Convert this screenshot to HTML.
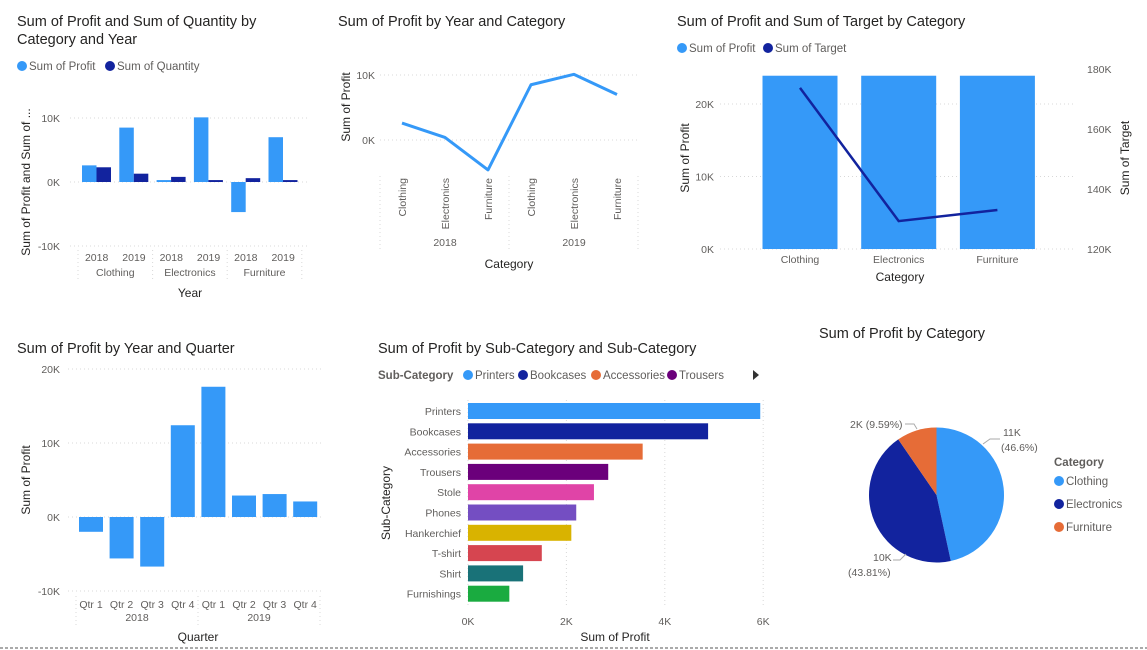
<!DOCTYPE html>
<html><head><meta charset="utf-8"><style>
body{margin:0;background:#fff;}
svg{display:block;font-family:"Liberation Sans","DejaVu Sans",sans-serif;}
.t{font-size:14.5px;fill:#252423;}
.ax{font-size:10.5px;fill:#605E5C;}
.at{font-size:12px;fill:#252423;}
.lg{font-size:11.5px;fill:#605E5C;}
.grid{stroke:#d8d8d8;stroke-dasharray:1,3;stroke-width:1;}
</style></head><body>
<svg id="s" width="1147" height="650">
<line x1="0" y1="648" x2="1147" y2="648" stroke="#555" stroke-dasharray="3,2"/>
</svg>
<script>
// Chart 1 data
const c1Groups=["Clothing","Electronics","Furniture"];
const c1Years=["2018","2019"];
const c1Profit=[2.6,8.5,0.3,10.1,-4.7,7.0];
const c1Qty=[2.3,1.3,0.8,0.3,0.6,0.3];
const c1Ticks=[10,0,-10];
// Chart 2
const c2Cats=["Clothing","Electronics","Furniture","Clothing","Electronics","Furniture"];
const c2Vals=[2.6,0.4,-4.6,8.5,10.1,7.0];
const c2Ticks=[10,0];
// Chart 3
const c3Cats=["Clothing","Electronics","Furniture"];
const c3Profit=[23.9,23.9,23.9];
const c3Target=[173.7,129.3,133.0];
const c3LTicks=[0,10,20];
const c3RTicks=[120,140,160,180];
// Chart 4
const c4Q=["Qtr 1","Qtr 2","Qtr 3","Qtr 4","Qtr 1","Qtr 2","Qtr 3","Qtr 4"];
const c4Vals=[-2.0,-5.6,-6.7,12.4,17.6,2.9,3.1,2.1];
const c4Ticks=[20,10,0,-10];
// Chart 5
const c5Cats=["Printers","Bookcases","Accessories","Trousers","Stole","Phones","Hankerchief","T-shirt","Shirt","Furnishings"];
const c5Vals=[5.94,4.88,3.55,2.85,2.56,2.2,2.1,1.5,1.12,0.84];
const c5Colors=["#3599F8","#12239E","#E66C37","#6B007B","#E044A7","#744EC2","#D9B300","#D64550","#197278","#1AAB40"];
const c5Ticks=[0,2,4,6];
// Chart 6
const c6Cats=["Clothing","Electronics","Furniture"];
const c6Pct=[46.6,43.81,9.59];
const c6Labels=["11K","10K","2K"];

const S=document.getElementById('s');
const NS="http://www.w3.org/2000/svg";
function el(tag,attrs,txt,name,inter){const e=document.createElementNS(NS,tag);for(const k in attrs)e.setAttribute(k,attrs[k]);if(txt!=null)e.textContent=txt;


S.appendChild(e);return e;}
const LB="#3599F8",DB="#12239E";
function fmt(v){return v+"K";}

// ---- Chart 1
el('text',{x:17,y:26,class:'t'},'Sum of Profit and Sum of Quantity by','chart1-title');
el('text',{x:17,y:44,class:'t'},'Category and Year','chart1-title-line2');
el('circle',{cx:22,cy:66,r:5,fill:LB},null,'legend-profit-dot');
el('text',{x:29,y:70,class:'lg'},'Sum of Profit','legend-profit',true);
el('circle',{cx:110,cy:66,r:5,fill:DB},null,'legend-quantity-dot');
el('text',{x:117,y:70,class:'lg'},'Sum of Quantity','legend-quantity',true);
const y1=v=>182-v*6.4;
c1Ticks.forEach(t=>{el('line',{x1:70,x2:310,y1:y1(t),y2:y1(t),class:'grid'},null,'c1-gridline');
el('text',{x:60,y:y1(t)+4,class:'ax','text-anchor':'end'},fmt(t),'c1-y-tick');});
el('text',{x:0,y:0,class:'at',transform:'translate(30,182) rotate(-90)','text-anchor':'middle'},'Sum of Profit and Sum of ...','c1-y-axis-title');
const gw=37.3,g0=78;
c1Profit.forEach((v,i)=>{const x=g0+i*gw+4;
el('rect',{x:x,y:Math.min(y1(v),y1(0)),width:14.5,height:Math.abs(y1(v)-y1(0)),fill:LB},null,'c1-bar-profit',true);
const q=c1Qty[i];el('rect',{x:x+14.5,y:Math.min(y1(q),y1(0)),width:14.5,height:Math.abs(y1(q)-y1(0)),fill:DB},null,'c1-bar-quantity',true);
el('text',{x:g0+i*gw+gw/2,y:261,class:'ax','text-anchor':'middle'},c1Years[i%2],'c1-x-year');});
c1Groups.forEach((g,i)=>{el('text',{x:g0+i*2*gw+gw,y:276,class:'ax','text-anchor':'middle'},g,'c1-x-category');
el('line',{x1:g0+i*2*gw,x2:g0+i*2*gw,y1:250,y2:282,class:'grid'},null,'c1-group-sep');});
el('line',{x1:g0+6*gw,x2:g0+6*gw,y1:250,y2:282,class:'grid'},null,'c1-group-sep');
el('text',{x:190,y:297,class:'at','text-anchor':'middle'},'Year','c1-x-axis-title');

// ---- Chart 2
el('text',{x:338,y:26,class:'t'},'Sum of Profit by Year and Category','chart2-title');
const y2=v=>140-v*6.5, x2=i=>402+i*43;
c2Ticks.forEach(t=>{el('line',{x1:380,x2:637,y1:y2(t),y2:y2(t),class:'grid'},null,'c2-gridline');
el('text',{x:375,y:y2(t)+4,class:'ax','text-anchor':'end'},fmt(t),'c2-y-tick');});
el('text',{x:0,y:0,class:'at',transform:'translate(350,107) rotate(-90)','text-anchor':'middle'},'Sum of Profit','c2-y-axis-title');
el('polyline',{points:c2Vals.map((v,i)=>x2(i)+','+y2(v)).join(' '),fill:'none',stroke:LB,'stroke-width':3,'stroke-linejoin':'round'},null,'c2-profit-line',true);
c2Cats.forEach((c,i)=>el('text',{x:0,y:0,class:'ax',transform:`translate(${x2(i)+4},178) rotate(-90)`,'text-anchor':'end'},c,'c2-x-category'));
["2018","2019"].forEach((y,i)=>el('text',{x:445+i*129,y:246,class:'ax','text-anchor':'middle'},y,'c2-x-year'));
[380,509,638].forEach(x=>el('line',{x1:x,x2:x,y1:176,y2:252,class:'grid'},null,'c2-group-sep'));
el('text',{x:509,y:268,class:'at','text-anchor':'middle'},'Category','c2-x-axis-title');

// ---- Chart 3
el('text',{x:677,y:26,class:'t'},'Sum of Profit and Sum of Target by Category','chart3-title');
el('circle',{cx:682,cy:48,r:5,fill:LB},null,'legend-profit-dot');
el('text',{x:689,y:52,class:'lg'},'Sum of Profit','legend-profit',true);
el('circle',{cx:768,cy:48,r:5,fill:DB},null,'legend-target-dot');
el('text',{x:775,y:52,class:'lg'},'Sum of Target','legend-target',true);
const y3=v=>249-v*7.25, y3r=v=>249-(v-120)*3.0;
c3LTicks.forEach(t=>{el('line',{x1:720,x2:1075,y1:y3(t),y2:y3(t),class:'grid'},null,'c3-gridline');
el('text',{x:714,y:y3(t)+4,class:'ax','text-anchor':'end'},fmt(t),'c3-y-left-tick');});
c3RTicks.forEach(t=>el('text',{x:1087,y:y3r(t)+4,class:'ax'},fmt(t),'c3-y-right-tick'));
el('text',{x:0,y:0,class:'at',transform:'translate(689,158) rotate(-90)','text-anchor':'middle'},'Sum of Profit','c3-y-left-title');
el('text',{x:0,y:0,class:'at',transform:'translate(1129,158) rotate(-90)','text-anchor':'middle'},'Sum of Target','c3-y-right-title');
const x3=i=>800+i*98.7;
c3Profit.forEach((v,i)=>{el('rect',{x:x3(i)-37.5,y:y3(v),width:75,height:y3(0)-y3(v),fill:LB},null,'c3-bar-profit',true);
el('text',{x:x3(i),y:263,class:'ax','text-anchor':'middle'},c3Cats[i],'c3-x-category');});
el('polyline',{points:c3Target.map((v,i)=>x3(i)+','+y3r(v)).join(' '),fill:'none',stroke:DB,'stroke-width':2.5},null,'c3-target-line',true);
el('text',{x:900,y:281,class:'at','text-anchor':'middle'},'Category','c3-x-axis-title');

// ---- Chart 4
el('text',{x:17,y:353,class:'t'},'Sum of Profit by Year and Quarter','chart4-title');
const y4=v=>517-v*7.4, x4=i=>91+i*30.6;
c4Ticks.forEach(t=>{el('line',{x1:68,x2:322,y1:y4(t),y2:y4(t),class:'grid'},null,'c4-gridline');
el('text',{x:60,y:y4(t)+4,class:'ax','text-anchor':'end'},fmt(t),'c4-y-tick');});
el('text',{x:0,y:0,class:'at',transform:'translate(30,480) rotate(-90)','text-anchor':'middle'},'Sum of Profit','c4-y-axis-title');
c4Vals.forEach((v,i)=>{el('rect',{x:x4(i)-12,y:Math.min(y4(v),y4(0)),width:24,height:Math.abs(y4(v)-y4(0)),fill:LB},null,'c4-bar-quarter',true);
el('text',{x:x4(i),y:608,class:'ax','text-anchor':'middle'},c4Q[i],'c4-x-quarter');});
["2018","2019"].forEach((y,i)=>el('text',{x:137+i*122,y:621,class:'ax','text-anchor':'middle'},y,'c4-x-year'));
[76,198,320].forEach(x=>el('line',{x1:x,x2:x,y1:596,y2:628,class:'grid'},null,'c4-group-sep'));
el('text',{x:198,y:641,class:'at','text-anchor':'middle'},'Quarter','c4-x-axis-title');

// ---- Chart 5
el('text',{x:378,y:353,class:'t'},'Sum of Profit by Sub-Category and Sub-Category','chart5-title');
el('text',{x:378,y:379,class:'lg','font-weight':'bold',fill:'#444'},'Sub-Category','c5-legend-title');
[["Printers",468],["Bookcases",523],["Accessories",596],["Trousers",672]].forEach(([n,x],i)=>{
el('circle',{cx:x,cy:375,r:5,fill:c5Colors[i]},null,'c5-legend-dot');
el('text',{x:x+7,y:379,class:'lg'},n,'c5-legend-'+n.toLowerCase(),true);});
el('path',{d:'M753,370 L759,375 L753,380 Z',fill:'#333'},null,'c5-legend-next-arrow',true);
const x5=v=>468+v*49.2, y5=i=>411+i*20.3;
c5Ticks.forEach(t=>{el('line',{x1:x5(t),x2:x5(t),y1:400,y2:606,class:'grid'},null,'c5-gridline');
el('text',{x:x5(t),y:625,class:'ax','text-anchor':'middle'},fmt(t),'c5-x-tick');});
c5Vals.forEach((v,i)=>{el('rect',{x:x5(0),y:y5(i)-8,width:x5(v)-x5(0),height:16,fill:c5Colors[i]},null,'c5-bar-'+c5Cats[i].toLowerCase(),true);
el('text',{x:461,y:y5(i)+4,class:'ax','text-anchor':'end'},c5Cats[i],'c5-y-category');});
el('text',{x:0,y:0,class:'at',transform:'translate(390,503) rotate(-90)','text-anchor':'middle'},'Sub-Category','c5-y-axis-title');
el('text',{x:615,y:641,class:'at','text-anchor':'middle'},'Sum of Profit','c5-x-axis-title');

// ---- Chart 6
el('text',{x:819,y:338,class:'t'},'Sum of Profit by Category','chart6-title');
const pcx=936.5,pcy=495,pr=67.5,pcol=[LB,DB,"#E66C37"];
let a0=-Math.PI/2;const tot=c6Pct.reduce((a,b)=>a+b,0);
c6Pct.forEach((p,i)=>{const a1=a0+p/tot*2*Math.PI;const lg=(a1-a0)>Math.PI?1:0;
el('path',{d:`M${pcx},${pcy} L${pcx+pr*Math.cos(a0)},${pcy+pr*Math.sin(a0)} A${pr},${pr} 0 ${lg} 1 ${pcx+pr*Math.cos(a1)},${pcy+pr*Math.sin(a1)} Z`,fill:pcol[i]},null,'c6-slice-'+c6Cats[i].toLowerCase(),true);
a0=a1;});
el('text',{x:1003,y:436,class:'ax'},c6Labels[0],'c6-label-clothing');
el('text',{x:1001,y:451,class:'ax'},'('+c6Pct[0]+'%)','c6-label-clothing-pct');
el('polyline',{points:'983,444 990,439 1000,439',fill:'none',stroke:'#aaa'},null,'c6-leader');
el('text',{x:873,y:561,class:'ax'},c6Labels[1],'c6-label-electronics');
el('text',{x:848,y:576,class:'ax'},'('+c6Pct[1]+'%)','c6-label-electronics-pct');
el('polyline',{points:'893,560 900,560 906,554',fill:'none',stroke:'#aaa'},null,'c6-leader');
el('text',{x:850,y:428,class:'ax'},c6Labels[2]+' ('+c6Pct[2]+'%)','c6-label-furniture');
el('polyline',{points:'905,424 914,424 917,429',fill:'none',stroke:'#aaa'},null,'c6-leader');
el('text',{x:1054,y:466,class:'lg','font-weight':'bold',fill:'#444'},'Category','c6-legend-title');
c6Cats.forEach((c,i)=>{el('circle',{cx:1059,cy:481+i*23,r:5,fill:pcol[i]},null,'c6-legend-dot');
el('text',{x:1066,y:485+i*23,class:'lg'},c,'c6-legend-'+c.toLowerCase(),true);});
</script>
</body></html>
